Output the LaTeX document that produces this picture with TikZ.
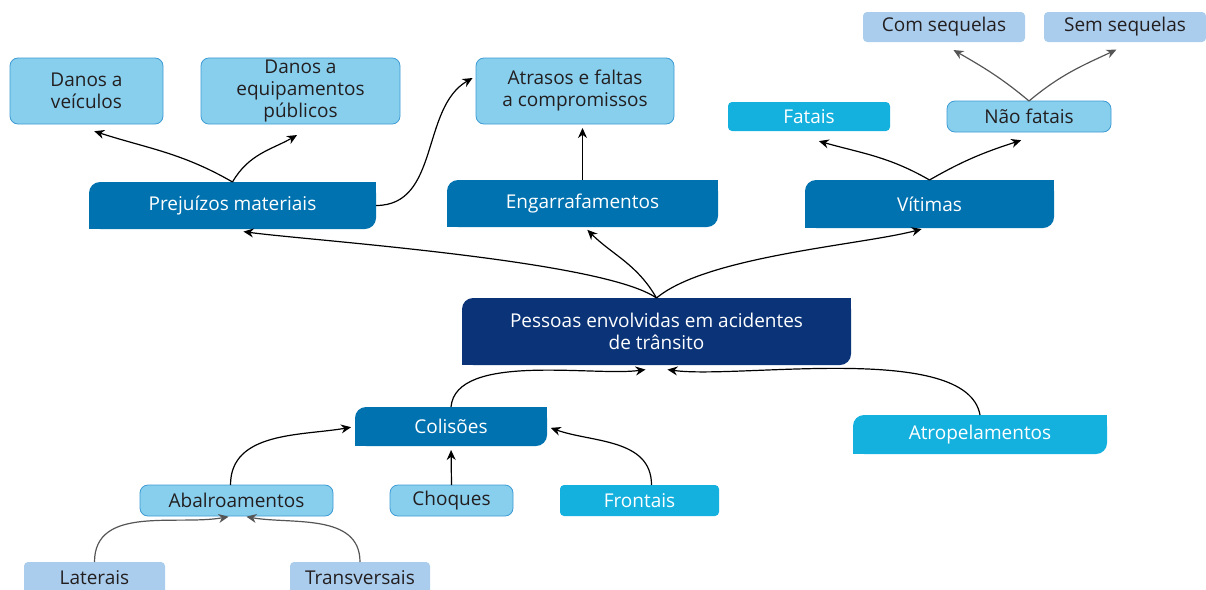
\documentclass[tikz,border=0pt]{standalone}
\usepackage{fontspec}
\setmainfont{Open Sans}
\usetikzlibrary{arrows.meta}
\definecolor{darkblue}{HTML}{0072AF}
\definecolor{navyblue}{HTML}{0B3478}
\definecolor{cyanblue}{HTML}{14B1DF}
\definecolor{lightblue}{HTML}{88CFEE}
\definecolor{lightedge}{HTML}{3D9BD4}
\definecolor{paleblue}{HTML}{ABCDED}
\definecolor{darktext}{HTML}{231F20}
\definecolor{grayarrow}{HTML}{555555}

\begin{document}
\begin{tikzpicture}[
    x=1pt, y=1pt,
    every node/.style={font=\fontsize{19}{22}\selectfont, align=center, outer sep=0pt, inner sep=2pt},
    two corners/.style={path picture={
        \fill[#1, rounded corners=11pt] (path picture bounding box.south west) rectangle (path picture bounding box.north east);
        \fill[#1] (path picture bounding box.south west) rectangle (path picture bounding box.center);
        \fill[#1] (path picture bounding box.center) rectangle (path picture bounding box.north east);
    }},
    dark box/.style={two corners=darkblue, text=white},
    main box/.style={two corners=navyblue, text=white},
    cyan box/.style={fill=cyanblue, rounded corners=4pt, text=white},
    light box/.style={fill=lightblue, draw=lightedge, line width=0.8pt, rounded corners=8pt, text=darktext},
    pale box/.style={fill=paleblue, rounded corners=4pt, text=darktext},
    link/.style={draw, line width=1.2pt, -{Stealth[length=10pt,width=9pt]}, shorten >=4pt},
    gray link/.style={link, draw=grayarrow, -{Stealth[length=10pt,width=9pt,fill=grayarrow]}}
]

% FIXED BOUNDING BOX
\useasboundingbox (0,0) rectangle (1206,-589);

% upper level
\node[light box, minimum width=153pt, minimum height=66pt] (veiculos) at (86.5,-91) {Danos a\\veículos};
\node[light box, minimum width=199pt, minimum height=66pt] (equip) at (300.5,-91) {Danos a\\equipamentos\\públicos};
\node[light box, minimum width=198pt, minimum height=66pt] (atrasos) at (575,-91) {Atrasos e faltas\\a compromissos};
\node[pale box, minimum width=162pt, minimum height=30pt] (comseq) at (944,-27) {Com sequelas};
\node[pale box, minimum width=162pt, minimum height=30pt] (semseq) at (1125,-27) {Sem sequelas};
\node[cyan box, minimum width=162pt, minimum height=29pt] (fatais) at (809,-116.5) {Fatais};
\node[light box, minimum width=164pt, minimum height=31pt] (naofatais) at (1029,-116.5) {Não fatais};

% consequences
\node[dark box, minimum width=287pt, minimum height=47pt] (prejuizos) at (232.5,-205.5) {Prejuízos materiais};
\node[dark box, minimum width=271pt, minimum height=47pt] (engarraf) at (582.5,-203.5) {Engarrafamentos};
\node[dark box, minimum width=249pt, minimum height=48pt] (vitimas) at (929.5,-204) {Vítimas};

% centre
\node[main box, minimum width=389pt, minimum height=67pt] (pessoas) at (656.5,-331.5) {Pessoas envolvidas em acidentes\\de trânsito};

% causes
\node[dark box, minimum width=192pt, minimum height=39pt] (colisoes) at (451,-426.5) {Colisões};
\node[two corners=cyanblue, text=white, minimum width=254pt, minimum height=39pt] (atropel) at (980,-434.5) {Atropelamentos};
\node[light box, minimum width=193pt, minimum height=31pt] (abalro) at (236.5,-500.5) {Abalroamentos};
\node[light box, minimum width=123pt, minimum height=31pt] (choques) at (451.5,-500.5) {Choques};
\node[cyan box, minimum width=159pt, minimum height=31pt] (frontais) at (639.5,-500.5) {Frontais};
\node[pale box, minimum width=141pt, minimum height=32pt] (laterais) at (94.5,-578) {Laterais};
\node[pale box, minimum width=140pt, minimum height=32pt] (transv) at (360,-578) {Transversais};

% arrows up from the centre
\draw[link] (pessoas.north) to[out=145, in=-8, looseness=0.4] ([xshift=7pt,yshift=-2pt]prejuizos.south);
\draw[link] (pessoas.north) to[out=120, in=-45] ([xshift=2pt]engarraf.south);
\draw[link] (pessoas.north) to[out=40, in=-165, looseness=0.6] ([xshift=-4pt]vitimas.south);

\draw[link] (prejuizos.north) to[out=150, in=-18] ([xshift=4pt,yshift=-6pt]veiculos.south);
\draw[link] (prejuizos.north) to[out=60, in=-150] ([yshift=-9pt]equip.south);
\draw[link] (prejuizos.east) to[out=0, in=210] ([yshift=15pt]atrasos.west);
\draw[link] (engarraf.north) -- (engarraf.north |- atrasos.south);

\draw[link] (vitimas.north) to[out=150, in=-16] ([xshift=6pt,yshift=-9pt]fatais.south);
\draw[link] (vitimas.north) to[out=30, in=-162] ([xshift=-4pt,yshift=-7pt]naofatais.south);
\draw[gray link] (naofatais.north) to[out=140, in=-30] ([xshift=6pt,yshift=-6pt]comseq.south);
\draw[gray link] (naofatais.north) to[out=40, in=-155] ([xshift=-5pt,yshift=-6pt]semseq.south);

% arrows into the centre
\draw[link] (colisoes.north) to[out=85, in=188, looseness=0.7] ([xshift=-7pt,yshift=-4pt]pessoas.south);
\draw[link] (atropel.north) to[out=100, in=-8, looseness=0.6] ([xshift=7pt,yshift=-4pt]pessoas.south);

\draw[link] ([xshift=-6pt]abalro.north) to[out=90, in=190] (colisoes.west);
\draw[link] (choques.north) -- (colisoes.south);
\draw[link] ([xshift=12pt]frontais.north) to[out=90, in=-20] (colisoes.east);
\draw[gray link] (laterais.north) to[out=90, in=190] ([xshift=-4pt]abalro.south);
\draw[gray link] (transv.north) to[out=90, in=-10] ([xshift=6pt]abalro.south);

\end{tikzpicture}
\end{document}
